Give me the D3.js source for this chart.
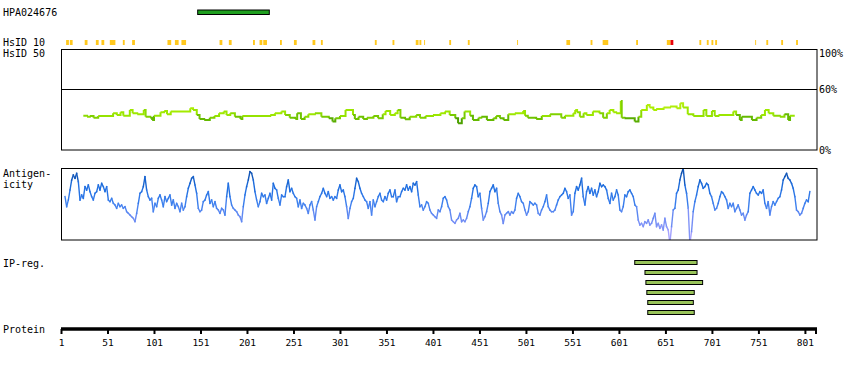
<!DOCTYPE html>
<html><head><meta charset="utf-8">
<script src="https://cdn.jsdelivr.net/npm/d3@7"></script>
<style>body{margin:0;background:#fff}svg{display:block}text{font-family:"DejaVu Sans Mono",monospace;}</style>
</head><body><svg id="c" width="850" height="370"></svg>
<script>
// ---------------- DATA ----------------
const proteinLength = 814;
const axisTicks = [1,51,101,151,201,251,301,351,401,451,501,551,601,651,701,751,801];
const antibodyName = "HPA024676";
const antibodyRange = [148, 225];
const hsid10Yellow = [[7,9],[11,13],[27,29],[39,41],[45,47],[54,59],[68,69],[78,80],[116,119],[124,127],[131,135],[172,174],[182,184],[208,209],[215,217],[219,222],[237,238],[252,254],[272,274],[281,282],[339,340],[358,359],[383,385],[387,388],[392,392],[419,420],[439,440],[492,492],[545,548],[571,572],[584,589],[620,621],[653,656],[688,689],[696,697],[701,702],[705,706],[748,748],[760,761],[776,777],[792,793]];
const hsid10Red = [[657,659]];
const identityTicks = [100, 60, 0];
const identPos = [25,29,32,36,41,57,61,65,68,75,78,83,90,92,97,99,101,108,112,115,119,140,143,147,150,155,161,166,171,176,179,183,188,194,196,226,231,238,242,247,253,255,259,263,267,274,281,289,293,296,301,307,315,317,321,326,330,337,342,347,350,355,360,363,366,371,376,383,387,393,401,409,414,419,425,428,432,435,441,444,450,453,459,466,469,473,477,482,489,498,500,503,512,518,527,539,543,552,554,556,559,563,566,573,580,584,588,591,595,598,603,604,607,618,622,625,631,634,638,641,649,656,663,667,670,675,681,692,695,701,704,708,724,727,731,733,744,749,754,758,762,767,774,779,783,785,789];
const identVal = [34.0,33.0,33.7,32.0,33.7,36.3,34.7,37.3,34.0,39.6,36.3,35.4,39.6,33.0,32.0,29.7,34.0,37.3,38.7,35.4,38.0,41.3,39.6,34.7,30.7,29.7,32.0,33.7,36.3,38.0,34.7,36.3,33.0,30.7,33.7,34.7,36.3,38.0,34.7,32.0,30.7,36.3,30.7,33.0,35.4,36.3,33.0,31.4,28.1,31.4,33.7,39.6,34.7,30.7,33.0,30.7,32.0,33.7,31.4,35.4,38.7,34.7,36.3,39.6,32.0,30.4,33.0,34.7,32.0,33.7,34.7,36.3,38.0,34.7,31.4,26.4,31.4,38.0,34.0,29.7,32.0,33.0,29.7,31.4,33.7,31.4,29.7,35.4,36.3,38.7,34.0,32.0,30.7,33.7,35.4,32.0,34.0,36.3,39.6,37.3,33.0,36.3,34.7,38.0,36.3,32.0,36.3,39.6,37.3,36.3,48.6,32.0,31.4,28.1,33.0,39.6,44.6,42.0,39.6,40.6,42.0,43.0,41.3,46.2,42.0,35.4,33.7,39.6,33.7,38.7,33.7,34.7,38.0,34.7,29.7,33.0,29.7,32.0,34.7,39.6,36.3,34.0,33.0,35.4,29.7,34.0,35.0];
const antigenStart = 5.3;
const antigenStep = 1.792;
const antigenVal = [
4.0,1.0,3.0,6.0,9.0,10.5,9.5,11.0,8.5,3.0,4.5,3.5,7.0,6.0,7.5,5.5,4.0,3.0,5.0,5.5,7.5,6.0,8.0,7.0,5.5,7.0,3.0,2.5,3.5,2.0,1.5,0.5,2.0,1.0,1.5,0.5,1.0,-0.5,-1.0,-1.5,-2.0,-2.5,-3.5,-1.0,2.0,5.0,5.5,7.0,10.0,6.0,4.0,3.0,3.5,-0.5,2.0,1.0,3.5,4.5,3.0,1.0,4.0,2.5,3.5,4.5,1.5,3.0,0.5,2.0,1.0,-0.5,2.0,0.0,1.0,4.0,6.5,8.0,9.5,10.0,7.5,5.0,0.5,-0.5,0.0,2.5,3.0,4.5,5.5,2.0,3.0,1.0,2.5,0.5,0.0,-1.0,0.5,0.0,-1.5,4.0,8.0,4.0,1.5,0.5,0.0,-0.5,-1.5,-2.0,-3.5,1.0,4.5,7.0,9.0,11.5,11.0,9.0,5.5,3.0,1.0,2.5,5.0,4.0,4.5,2.0,3.5,5.0,3.0,8.0,6.5,6.0,3.5,1.5,4.5,4.0,4.0,7.0,9.0,5.5,6.5,5.0,4.0,3.5,1.0,3.0,0.5,2.0,1.5,0.5,-1.0,1.5,2.5,0.0,-3.0,1.0,2.5,4.0,5.0,6.5,5.0,4.0,5.5,3.5,4.0,3.0,4.0,3.5,6.0,7.5,5.5,6.0,4.0,1.0,-2.5,0.5,2.5,3.5,6.5,9.5,8.5,6.5,5.0,4.0,3.0,2.5,0.5,2.5,-1.5,3.0,1.0,2.5,4.0,5.0,3.0,2.5,4.0,3.0,5.0,6.0,4.0,4.0,6.0,2.5,4.0,4.0,5.5,6.5,6.0,7.5,6.0,7.0,5.5,8.0,7.5,8.5,4.5,
1.0,1.5,0.0,1.0,2.5,2.0,0.0,-1.0,-1.5,-2.0,-2.5,0.0,-0.5,1.0,3.5,4.0,3.0,1.0,0.0,-3.0,-3.5,-4.0,-3.0,-2.5,-1.0,-3.5,-3.0,-3.5,-2.5,-0.5,1.0,3.5,6.5,7.5,7.0,4.0,5.0,0.5,-3.0,-2.0,-0.5,2.0,5.5,6.5,7.5,5.5,6.5,2.0,-0.5,-1.5,-4.0,-1.5,-1.0,-0.5,-1.5,-0.5,-1.0,0.0,3.5,5.0,4.0,2.5,2.0,0.0,-1.5,-0.5,2.5,2.0,1.5,2.0,1.5,-1.0,-1.5,0.0,1.0,2.5,4.5,1.0,0.0,-0.5,-0.5,0.0,1.5,3.0,4.0,4.5,5.0,6.5,5.5,3.5,4.5,-1.5,-0.5,5.0,7.0,6.0,7.5,9.5,4.0,1.5,5.5,7.0,5.0,6.5,4.5,6.0,4.0,5.5,8.0,7.0,7.5,7.0,6.0,3.5,2.0,5.0,3.0,4.0,6.0,4.5,0.0,-0.5,1.0,4.5,4.0,5.5,6.0,5.0,4.0,1.5,1.0,-3.0,-4.5,-4.0,-5.0,-3.5,-4.0,-3.0,-4.5,-4.0,-2.5,-1.0,-5.0,-4.0,-5.5,-4.5,-6.0,-2.5,-5.0,-6.0,-10.0,-5.0,0.0,0.5,5.0,6.0,9.0,11.0,12.5,7.5,5.0,0.5,-10.0,-6.5,-0.5,2.5,4.5,7.0,9.0,8.0,6.5,7.0,8.0,7.5,5.0,4.0,2.0,0.0,0.5,2.0,4.0,5.5,5.0,4.0,3.0,0.5,2.0,1.0,2.0,-0.5,0.5,1.5,0.0,-1.5,-1.0,-3.0,-1.5,-0.5,5.0,6.0,7.0,6.0,5.0,4.5,5.5,5.0,6.0,2.0,0.5,2.5,-1.5,1.0,2.5,1.5,2.5,3.5,4.0,6.0,9.0,10.0,11.0,9.5,9.0,8.0,6.5,4.0,0.0,-0.5,-1.5,-1.0,0.5,2.0,3.0,2.5,5.5];
const antigenDomain = [-9, 12.6];
const ipRegions = [[618,685],[629,685],[630,691],[631,682],[632,681],[632,682]];

// ---------------- CHART ----------------
const svg = d3.select("#c");
const x = d3.scaleLinear().domain([1, proteinLength]).range([61, 817]);
const L = 61, R = 817;

// labels
const lab = (t, tx, ty) => svg.append("text").attr("x", tx).attr("y", ty).attr("font-size", 10).attr("fill", "#000").text(t);
lab(antibodyName, 3, 16);
lab("HsID 10", 3, 46);
lab("HsID 50", 3, 56.5);
lab("Antigen-", 3, 177);
lab("icity", 3, 187.5);
lab("IP-reg.", 3, 267);
lab("Protein", 3, 333);

// antibody bar
svg.append("rect").attr("x", x(antibodyRange[0])).attr("y", 10)
  .attr("width", x(antibodyRange[1]) - x(antibodyRange[0])).attr("height", 4.5)
  .attr("fill", "#1f9f1f").attr("stroke", "#000").attr("stroke-width", 1);

// HsID 10 marks
const mark = (arr, col) => svg.append("g").selectAll("rect").data(arr).join("rect")
  .attr("x", d => x(d[0] - 0.5)).attr("y", 40)
  .attr("width", d => x(d[1] + 0.5) - x(d[0] - 0.5)).attr("height", 5)
  .attr("fill", col);
mark(hsid10Yellow, "#ffc81e");
mark(hsid10Red, "#e8000b");

// identity panel
const yId = d3.scaleLinear().domain([0, 100]).range([150, 49]);
svg.append("rect").attr("x", L + 0.5).attr("y", 49.5).attr("width", R - L - 0.5).attr("height", 100.5)
  .attr("fill", "none").attr("stroke", "#000").attr("stroke-width", 1);
svg.append("line").attr("x1", L).attr("x2", R).attr("y1", Math.round(yId(60)) + 0.5).attr("y2", Math.round(yId(60)) + 0.5)
  .attr("stroke", "#000").attr("stroke-width", 1);
identityTicks.forEach(t => {
  const yy = yId(t);
  svg.append("text").attr("x", 819).attr("y", t === 100 ? 56.5 : yy + 4)
    .attr("font-size", 10).attr("fill", "#000").text(t + "%");
});
const colId = d3.scaleLinear().domain([26, 30, 34, 40, 48]).range(["#4a9e00", "#66bb00", "#99e600", "#aaee00", "#ccee33"]);
const idSegs = identPos.slice(0, -1).map((p, i) => ({p0: p, p1: identPos[i + 1], v0: identVal[i], v1: identVal[i + 1]}));
svg.append("g").selectAll("path").data(idSegs).join("path")
  .attr("d", d => `M${x(d.p0)},${yId(d.v0)}H${x(d.p1)}V${yId(d.v1)}`)
  .attr("fill", "none").attr("stroke", d => colId(Math.min(d.v0, d.v1))).attr("stroke-width", 2);

// antigenicity panel
const yAn = d3.scaleLinear().domain(antigenDomain).range([240, 168]);
svg.append("clipPath").attr("id", "anclip").append("rect").attr("x", L).attr("y", 168).attr("width", R - L).attr("height", 72);
const anPts = antigenVal.map((v, i) => ({r: antigenStart + i * antigenStep, v}));
const colAn = d3.scaleLinear().domain([-8, -3, 2, 7, 12]).range(["#a6a2ff", "#6f8cf4", "#3d80ee", "#1d6ddf", "#0a4aa5"]);
const anSegs = anPts.slice(0, -1).map((d, i) => ({a: d, b: anPts[i + 1]}));
svg.append("g").attr("clip-path", "url(#anclip)").selectAll("line").data(anSegs).join("line")
  .attr("x1", d => x(d.a.r)).attr("y1", d => yAn(d.a.v))
  .attr("x2", d => x(d.b.r)).attr("y2", d => yAn(d.b.v))
  .attr("stroke", d => colAn((d.a.v + d.b.v) / 2)).attr("stroke-width", 1.4).attr("stroke-linecap", "square");
svg.append("rect").attr("x", L + 0.5).attr("y", 168.5).attr("width", R - L - 0.5).attr("height", 71.5)
  .attr("fill", "none").attr("stroke", "#000").attr("stroke-width", 1);

// IP regions
svg.append("g").selectAll("rect").data(ipRegions).join("rect")
  .attr("x", d => x(d[0])).attr("y", (d, i) => 260.5 + i * 10)
  .attr("width", d => x(d[1]) - x(d[0])).attr("height", 4)
  .attr("fill", "#99c45a").attr("stroke", "#000").attr("stroke-width", 1);

// protein axis
const axis = d3.axisBottom(x).tickValues(axisTicks).tickSize(5).tickSizeOuter(0).tickPadding(5).tickFormat(d3.format("d"));
const ag = svg.append("g").attr("transform", "translate(0,329)").call(axis);
ag.select(".domain").attr("stroke", "#000").attr("stroke-width", 3.4).attr("d", `M${L},0H${R}`);
ag.selectAll(".tick line").attr("stroke", "#000").attr("stroke-width", 2);
ag.selectAll(".tick text").attr("font-family", "DejaVu Sans Mono, monospace").attr("font-size", 9.5).attr("fill", "#000");
ag.append("line").attr("x1", R - 1).attr("x2", R - 1).attr("y1", -1).attr("y2", 5).attr("stroke", "#000").attr("stroke-width", 2);
</script></body></html>
